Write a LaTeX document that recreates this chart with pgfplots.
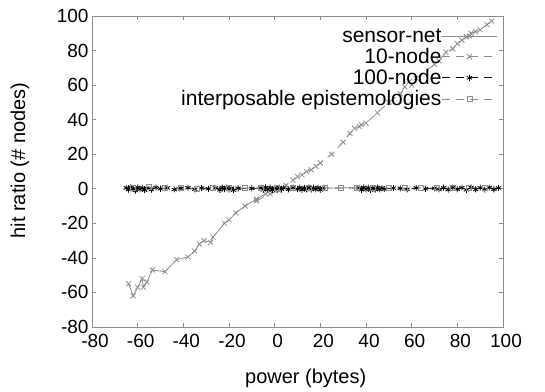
\documentclass[border=0pt]{standalone}
\usepackage{fontspec}
\setmainfont{Liberation Sans}
\usepackage{pgfplots}
\pgfplotsset{compat=1.18}
\definecolor{lgray}{gray}{0.55}
\definecolor{dgray}{gray}{0.25}
\begin{document}
\begin{tikzpicture}
\begin{axis}[
  scale only axis,
  width=411pt, height=311pt,
  xmin=-80, xmax=100, ymin=-80, ymax=100,
  xtick={-80,-60,...,100}, ytick={-80,-60,...,100},
  axis line style={lgray, line width=0.8pt},
  tick style={lgray, line width=0.6pt},
  tick align=inside,
  /pgf/number format/assume math mode=true,
  ticklabel style={font=\fontsize{19}{22}\selectfont},
  xticklabel style={yshift=-4pt, xshift=3pt},
  xlabel={power (bytes)}, ylabel={hit ratio (\# nodes)},
  label style={font=\fontsize{20}{24}\selectfont},
  xlabel style={at={(axis description cs:0.52,-0.164)}, anchor=center},
  ylabel style={at={(axis description cs:-0.175,0.535)}, anchor=center},
  legend style={at={(1,1)}, anchor=north east, draw=none, fill=none,
    font=\fontsize{21}{24}\selectfont, row sep=3.5pt, nodes={inner sep=0.5pt}, yshift=-10pt, xshift=-2pt},
  legend cell align=right,
  legend plot pos=right,
  legend image code/.code={\draw[mark repeat=2,mark phase=2,#1] plot coordinates {(0pt,0pt) (27pt,0pt) (55pt,0pt)};},
]
% sensor-net
\addplot[lgray, line width=0.8pt, mark=x, mark size=3.5pt, mark options={solid}] coordinates {
(-64,-55) (-62,-62) (-60,-57) (-58,-52) (-57.5,-57) (-56,-54) (-53.5,-47) (-48,-48)
(-43,-41) (-38,-39.5) (-35,-36) (-33,-32) (-31,-30) (-28,-31) (-27,-28) (-22,-20)
(-20,-18) (-17,-14) (-13,-10) (-8,-6) (-4,-3) (0,0)
};
\addlegendentry{sensor-net}
% 10-node
\addplot[lgray, line width=0.8pt, dashed, dash pattern=on 8pt off 6pt, mark=x, mark size=3.5pt, mark options={solid}] coordinates {
(-8,-7) (-2,-3) (2,-1) (5,2) (8,5) (10,7) (12,8) (14,10) (16,11) (18,13) (20,15)
(25,20) (30,27) (33,32) (35,35) (37,36) (38,37) (40,38) (45,44) (50,50) (55,55)
(57,59) (59,62) (60,60) (62,64) (70,72) (72,74) (75,79) (78,81) (80,84) (82,86)
(84,88) (86,90) (88,91) (90,92) (93,95) (95,97)
};
\addlegendentry{10-node}
% 100-node
\addplot[black, line width=0.8pt, dashed, dash pattern=on 8pt off 6pt, mark=asterisk, mark size=3pt, mark options={solid}] coordinates {
(-65,0.5) (-64,-0.5) (-63,1) (-62,0) (-61,-1) (-60,0.8) (-59,-0.3) (-58,0.6) (-57,-0.8)
(-56,0.4) (-54,-0.5) (-52,0.7) (-50,0) (-47,0.5) (-44,-0.4) (-41,0.3) (-38,0.6)
(-35,-0.3) (-32,0.4) (-29,0) (-26,0.5) (-24,-0.6) (-23,0.8) (-22,-0.2) (-21,0.6)
(-20,-0.5) (-19,0.4) (-18,-0.8) (-16,0.3) (-10,0.2) (-6,0.5) (-5,-0.6) (-4,0.8)
(-3,-0.4) (-2,0.6) (-1,-0.7) (0,0.4) (1,-0.5) (2,0.7) (3,-0.3) (4,0.5) (6,-0.4)
(8,0.6) (10,-0.2) (11,0.7) (12,-0.6) (13,0.5) (14,-0.4) (15,0.8) (16,-0.5) (17,0.6)
(18,-0.3) (19,0.7) (20,-0.6) (21,0.4) (37,0.5) (38,-0.6) (39,0.8) (40,-0.3) (41,0.6)
(42,-0.7) (43,0.4) (44,-0.5) (45,0.7) (46,-0.4) (47,0.5) (48,-0.2) (52,0.4) (55,0.2)
(58,-0.3) (62,0.5) (66,0) (70,0.3) (72,-0.4) (74,0.6) (76,-0.5) (78,0.7) (80,-0.3)
(82,0.6) (84,-0.6) (86,0.8) (88,-0.4) (90,0.6) (92,-0.5) (94,0.7) (96,-0.3) (98,0.5)
};
\addlegendentry{100-node}
% interposable epistemologies
\addplot[lgray, line width=0.8pt, dashed, dash pattern=on 8pt off 6pt, mark=square, mark size=2.5pt, mark options={solid}] coordinates {
(-62,0.5) (-55,0.8) (-48,0.3) (-41,0.6) (-34,0.2) (-27,0.7) (-20,0.4) (-13,0.5)
(-6,0.3) (1,0.6) (8,0.4) (15,0.7) (22,0.3) (29,0.5) (36,0.6) (43,0.4) (50,0.5)
(57,0.3) (64,0.6) (71,0.4) (78,0.5) (85,0.7) (92,0.4)
};
\addlegendentry{interposable epistemologies}
\end{axis}
\pgfresetboundingbox
\path[use as bounding box] ([xshift=-92pt,yshift=-65pt]current axis.south west) rectangle ([xshift=42pt,yshift=16pt]current axis.north east);
\end{tikzpicture}
\end{document}
